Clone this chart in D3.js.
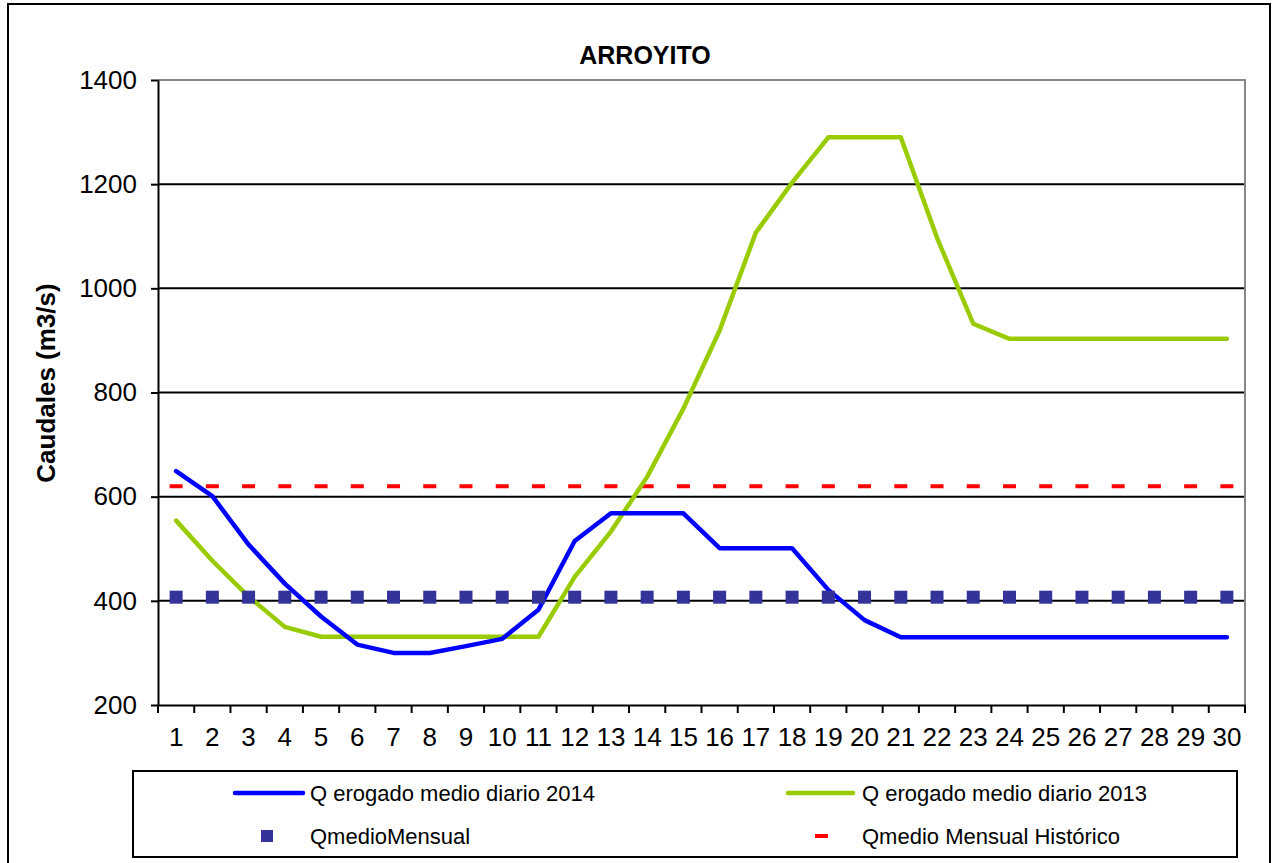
<!DOCTYPE html>
<html>
<head>
<meta charset="utf-8">
<script src="https://cdn.jsdelivr.net/npm/d3@7"></script>
<style>
  body { margin: 0; background: #fff; }
  svg { display: block; font-family: "Liberation Sans", Arial, sans-serif; }
</style>
</head>
<body>
<div id="chart"></div>
<script>
// data (dias del mes)
let days = [1, 2, 3, 4, 5, 6, 7, 8, 9, 10, 11, 12, 13, 14, 15, 16, 17, 18, 19, 20, 21, 22, 23, 24, 25, 26, 27, 28, 29, 30];
let q2014 = [649, 601, 508, 433, 370, 316, 300, 300, 313, 327, 383, 515, 568, 568, 568, 501, 501, 501, 421, 363, 330, 330, 330, 330, 330, 330, 330, 330, 330, 330];
let q2013 = [554, 477, 408, 350, 331, 331, 331, 331, 331, 331, 331, 446, 533, 638, 769, 919, 1107, 1203, 1290, 1290, 1290, 1097, 932, 903, 903, 903, 903, 903, 903, 903];
let qMedioMensual = [407, 407, 407, 407, 407, 407, 407, 407, 407, 407, 407, 407, 407, 407, 407, 407, 407, 407, 407, 407, 407, 407, 407, 407, 407, 407, 407, 407, 407, 407];
let qHistorico = [620, 620, 620, 620, 620, 620, 620, 620, 620, 620, 620, 620, 620, 620, 620, 620, 620, 620, 620, 620, 620, 620, 620, 620, 620, 620, 620, 620, 620, 620];
let yTicks = [200, 400, 600, 800, 1000, 1200, 1400];

let W = 1273, H = 863;
let plot = { left: 158, top: 80, right: 1245, bottom: 705 };

let svg = d3.select("#chart").append("svg")
	.attr("width", W)
	.attr("height", H);

// outer frame
svg.append("rect")
	.attr("x", 8).attr("y", 4)
	.attr("width", 1262).attr("height", 868)
	.attr("fill", "#fff")
	.attr("stroke", "#000")
	.attr("stroke-width", 2);

let x = d3.scaleBand().domain(days).range([plot.left, plot.right]).padding(0);
let y = d3.scaleLinear().domain([200, 1400]).range([plot.bottom, plot.top]);
let cx = function (d) { return x(d) + x.bandwidth() / 2; };

// gridlines
svg.append("g")
	.selectAll("line")
	.data(yTicks.slice(1))
	.enter().append("line")
	.attr("x1", plot.left).attr("x2", plot.right)
	.attr("y1", function (d) { return y(d); })
	.attr("y2", function (d) { return y(d); })
	.attr("stroke", "#000")
	.attr("stroke-width", 2);

// plot border (gray), top and right
svg.append("path")
	.attr("d", "M" + plot.left + "," + plot.top + "H" + plot.right + "V" + plot.bottom)
	.attr("fill", "none")
	.attr("stroke", "#888")
	.attr("stroke-width", 2);

// y axis
let yAxis = svg.append("g")
	.attr("transform", "translate(" + plot.left + ",0)")
	.call(d3.axisLeft(y).tickValues(yTicks).tickFormat(d3.format("d")).tickSize(7).tickSizeOuter(0).tickPadding(14));
yAxis.select(".domain").attr("stroke", "#000").attr("stroke-width", 2);
yAxis.selectAll(".tick line").attr("stroke", "#000").attr("stroke-width", 2);
yAxis.selectAll("text").style("font-size", "26px").attr("fill", "#000");

// x axis: labels centered in bands, ticks on band edges
let xAxis = svg.append("g")
	.attr("transform", "translate(0," + plot.bottom + ")")
	.call(d3.axisBottom(x).tickSize(0).tickPadding(23));
xAxis.select(".domain").attr("stroke", "#000").attr("stroke-width", 2);
xAxis.selectAll("text").style("font-size", "26px").attr("fill", "#000");
xAxis.append("g")
	.selectAll("line")
	.data(days.concat(["end"]))
	.enter().append("line")
	.attr("x1", function (d) { return d === "end" ? plot.right : x(d); })
	.attr("x2", function (d) { return d === "end" ? plot.right : x(d); })
	.attr("y1", 0).attr("y2", 8)
	.attr("stroke", "#000")
	.attr("stroke-width", 2);

// title & y label
svg.append("text")
	.attr("x", 645).attr("y", 64)
	.attr("text-anchor", "middle")
	.style("font-size", "25px")
	.style("font-weight", "bold")
	.text("ARROYITO");

svg.append("text")
	.attr("transform", "translate(55,383) rotate(-90)")
	.attr("text-anchor", "middle")
	.style("font-size", "26px")
	.style("font-weight", "bold")
	.text("Caudales (m3/s)");

// series
let line = d3.line()
	.x(function (d, i) { return cx(days[i]); })
	.y(function (d) { return y(d); });

// historico: dash markers
svg.append("g")
	.selectAll("rect")
	.data(qHistorico)
	.enter().append("rect")
	.attr("x", function (d, i) { return cx(days[i]) - 6.5; })
	.attr("y", function (d) { return y(d) - 2; })
	.attr("width", 13).attr("height", 4)
	.attr("fill", "#ff0000");

svg.append("path")
	.datum(q2013)
	.attr("d", line)
	.attr("fill", "none")
	.attr("stroke", "#99cc00")
	.attr("stroke-width", 4.5)
	.attr("stroke-linecap", "round")
	.attr("stroke-linejoin", "round");

svg.append("path")
	.datum(q2014)
	.attr("d", line)
	.attr("fill", "none")
	.attr("stroke", "#0000ff")
	.attr("stroke-width", 4.5)
	.attr("stroke-linecap", "round")
	.attr("stroke-linejoin", "round");

svg.append("g")
	.selectAll("rect")
	.data(qMedioMensual)
	.enter().append("rect")
	.attr("x", function (d, i) { return cx(days[i]) - 6.5; })
	.attr("y", function (d) { return y(d) - 6.5; })
	.attr("width", 13).attr("height", 13)
	.attr("fill", "#333399");

// legend
let lg = svg.append("g");
lg.append("rect")
	.attr("x", 133).attr("y", 771)
	.attr("width", 1104).attr("height", 86)
	.attr("fill", "#fff")
	.attr("stroke", "#000")
	.attr("stroke-width", 2);

let legendItems = [
	{ name: "Q erogado medio diario 2014", kind: "line", color: "#0000ff", x0: 235, x1: 303, tx: 310, ty: 793 },
	{ name: "Q erogado medio diario 2013", kind: "line", color: "#99cc00", x0: 788, x1: 853, tx: 862, ty: 793 },
	{ name: "QmedioMensual", kind: "square", color: "#333399", x0: 261, x1: 274, tx: 310, ty: 836 },
	{ name: "Qmedio Mensual Histórico", kind: "dash", color: "#ff0000", x0: 815, x1: 828, tx: 862, ty: 836 }
];

legendItems.forEach(function (d) {
	if (d.kind === "line") {
		lg.append("line")
			.attr("x1", d.x0).attr("x2", d.x1)
			.attr("y1", d.ty).attr("y2", d.ty)
			.attr("stroke", d.color)
			.attr("stroke-width", 4.5)
			.attr("stroke-linecap", "round");
	} else if (d.kind === "square") {
		lg.append("rect")
			.attr("x", d.x0).attr("y", d.ty - 6)
			.attr("width", 12).attr("height", 12)
			.attr("fill", d.color);
	} else {
		lg.append("rect")
			.attr("x", d.x0).attr("y", d.ty - 2)
			.attr("width", d.x1 - d.x0).attr("height", 4)
			.attr("fill", d.color);
	}
	lg.append("text")
		.attr("x", d.tx).attr("y", d.ty)
		.attr("dy", "0.35em")
		.style("font-size", "22px")
		.text(d.name);
});
</script>
</body>
</html>
